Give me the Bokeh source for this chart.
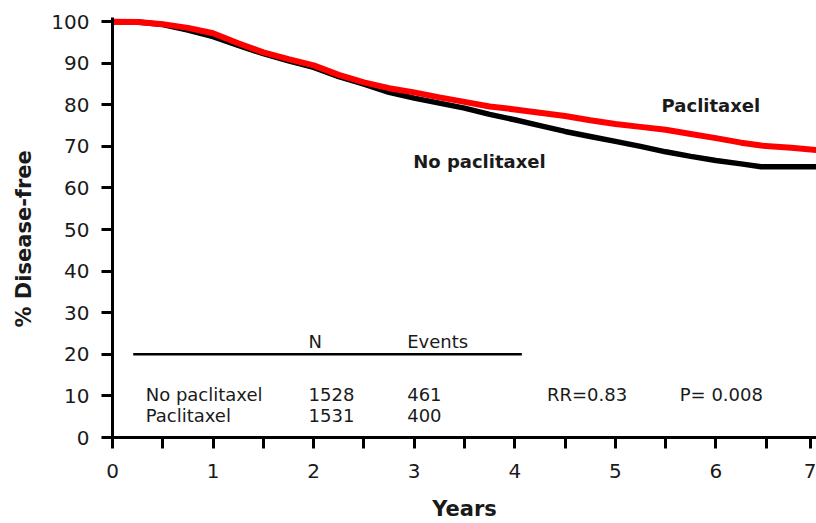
from bokeh.plotting import figure
from bokeh.models import FixedTicker, SingleIntervalTicker, Range1d, Title
from bokeh.core.properties import value
from bokeh.embed import file_html
from bokeh.resources import INLINE

# ---------------- data ----------------
years = [0, 0.25, 0.5, 0.75, 1.0, 1.25, 1.5, 1.75, 2.0, 2.25, 2.5, 2.75, 3.0,
         3.25, 3.5, 3.75, 4.0, 4.25, 4.5, 4.75, 5.0, 5.25, 5.5, 5.75, 6.0,
         6.25, 6.45, 6.75, 7.0]
paclitaxel = [100, 99.9, 99.4, 98.5, 97.2, 94.8, 92.6, 91.0, 89.5, 87.2, 85.4,
              84.0, 83.0, 81.8, 80.7, 79.6, 78.9, 78.1, 77.3, 76.3, 75.4, 74.7,
              74.0, 73.0, 72.0, 70.9, 70.2, 69.7, 69.1]
no_paclitaxel = [100, 99.9, 99.3, 98.0, 96.4, 94.3, 92.3, 90.6, 89.0, 86.8, 85.0,
                 83.0, 81.6, 80.4, 79.2, 77.7, 76.4, 75.0, 73.6, 72.4, 71.2, 70.0,
                 68.7, 67.6, 66.6, 65.8, 65.1, 65.1, 65.1]

groups = ["No paclitaxel", "Paclitaxel"]
n_patients = ["1528", "1531"]
n_events = ["461", "400"]
table_headers = ["N", "Events"]
rr_text = "RR=0.83"
p_text = "P= 0.008"
x_tick_labels = ["0", "1", "2", "3", "4", "5", "6", "7"]

# ---------------- layout constants ----------------
FONT = "DejaVu Sans"
TXT = "#1a1a1a"
col_x = [0.33, 1.95, 2.93]     # group / N / events columns (years)
row_y = [10.3, 5.25]           # table rows (percent)
header_y = 23.1
rule_y = 20
rule_x = (0.206, 4.07)
last_tick_pos = 6.94           # "7" sits at the right edge; nudged to stay visible

p = figure(width=816, height=523, output_backend="svg", toolbar_location=None,
           x_range=Range1d(0, 7.0), y_range=Range1d(0, 101),
           min_border_left=112, min_border_right=0, min_border_top=17,
           min_border_bottom=86)
p.outline_line_color = None
p.grid.visible = False
p.background_fill_color = "white"
p.border_fill_color = "white"

for ax in (p.xaxis, p.yaxis):
    ax.axis_line_width = 3
    ax.axis_line_color = "black"
    ax.major_tick_line_width = 3
    ax.major_tick_line_color = "black"
    ax.major_tick_in = 0
    ax.major_tick_out = 11
    ax.major_label_text_font = FONT
    ax.major_label_text_font_size = "20px"
    ax.major_label_text_color = TXT

p.xaxis.major_label_standoff = 15
p.yaxis.major_label_standoff = 12

x_ticks = [0, 1, 2, 3, 4, 5, 6, last_tick_pos]
p.xaxis.ticker = FixedTicker(ticks=x_ticks,
                             minor_ticks=[0.5, 1.5, 2.5, 3.5, 4.5, 5.5, 6.5])
p.xaxis.major_label_overrides = {t: lab for t, lab in zip(x_ticks, x_tick_labels)}
p.xaxis.minor_tick_in = 0
p.xaxis.minor_tick_out = 11
p.xaxis.minor_tick_line_width = 3
p.xaxis.minor_tick_line_color = "black"
p.yaxis.ticker = SingleIntervalTicker(interval=10, num_minor_ticks=0)
p.yaxis.minor_tick_line_color = None

# x axis title
p.xaxis.axis_label = "Years"
p.xaxis.axis_label_text_font = FONT
p.xaxis.axis_label_text_font_style = "bold"
p.xaxis.axis_label_text_font_size = "21px"
p.xaxis.axis_label_text_color = TXT
p.xaxis.axis_label_standoff = 16

# curves
p.line(years, no_paclitaxel, line_color="black", line_width=5.5)
p.line(years, paclitaxel, line_color="#ff0000", line_width=6)

# curve labels
p.text(x=[5.46], y=[79.8], text=[groups[1]], text_font=value(FONT),
       text_font_style="bold", text_font_size="18px", text_color=TXT,
       text_baseline="alphabetic")
p.text(x=[2.99], y=[66.3], text=[groups[0]], text_font=value(FONT),
       text_font_style="bold", text_font_size="18px", text_color=TXT,
       text_baseline="alphabetic")

# table
tbl = dict(text_font=value(FONT), text_font_size="18px", text_color=TXT,
           text_baseline="alphabetic")
p.text(x=col_x[1:], y=[header_y] * 2, text=table_headers, **tbl)
p.segment(x0=[rule_x[0]], y0=[rule_y], x1=[rule_x[1]], y1=[rule_y],
          line_color="black", line_width=2.5)
p.text(x=[col_x[0]] * 2, y=row_y, text=groups, **tbl)
p.text(x=[col_x[1]] * 2, y=row_y, text=n_patients, **tbl)
p.text(x=[col_x[2]] * 2, y=row_y, text=n_events, **tbl)
p.text(x=[4.32], y=[row_y[0]], text=[rr_text], **tbl)
p.text(x=[5.64], y=[row_y[0]], text=[p_text], **tbl)

# y axis title as a side-panel title (offset places it along the axis)
p.add_layout(Title(text="% Disease-free", align="left", offset=110,
                   vertical_align="top", standoff=21,
                   text_font=FONT, text_font_style="bold", text_font_size="21px",
                   text_color=TXT), "left")

open("out.html", "w").write(file_html(p, INLINE))
